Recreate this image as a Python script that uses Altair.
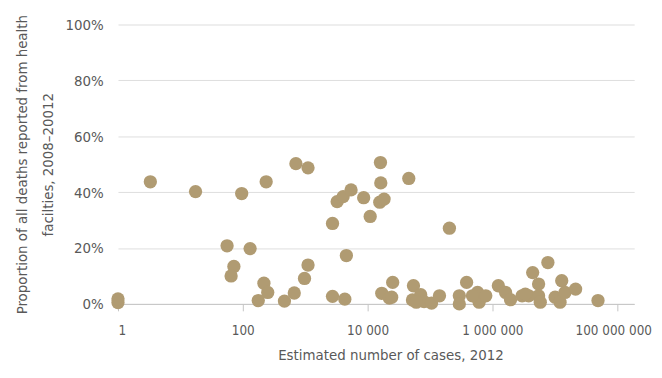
import altair as alt
import pandas as pd

# Estimated number of cases, 2012 (log scale)
cases = [
    1, 1, 3.3, 17.5, 96, 237, 710, 1110, 56, 131,
    72, 65, 218, 251, 177, 465, 668, 975, 1110, 2740,
    3250, 4055, 5430, 8650, 11000, 4570, 2740, 4315, 16070, 16260,
    15670, 18370, 16870, 22340, 25230, 45700, 204600, 54300, 52360, 70960,
    80350, 105900, 141900, 60300, 295000, 295000, 386000, 578000, 612000, 783000,
    479000, 1245000, 1626000, 1950000, 2992000, 3811000, 4416000, 5495000, 5495000, 5848000,
    7745000, 10120000, 12130000, 12910000, 14550000, 21530000, 49200000, 3365000, 24300,
]
# Proportion of deaths reported from health facilities (%)
share = [
    0.5, 1.8, 43.7, 40.2, 39.5, 43.7, 50.2, 48.7, 20.8, 19.8,
    13.4, 10.0, 7.4, 4.1, 1.2, 1.0, 3.9, 9.1, 13.9, 28.8,
    36.6, 38.4, 40.8, 38.0, 31.3, 17.3, 2.7, 1.7, 50.6, 43.3,
    36.4, 37.5, 3.8, 2.1, 7.7, 44.9, 27.1, 6.5, 1.4, 3.3,
    0.8, 0.3, 2.9, 0.6, 2.9, 0.0, 7.7, 4.1, 0.6, 2.9,
    2.9, 6.5, 4.1, 1.5, 2.9, 2.9, 11.2, 7.1, 2.9, 0.6,
    14.8, 2.4, 0.6, 8.3, 4.1, 5.3, 1.2, 3.5, 2.4,
]

x_ticks = [1, 100, 10000, 1000000, 100000000]
x_tick_labels = ["1", "100", "10 000", "1 000 000", "100 000 000"]
y_ticks = [0, 20, 40, 60, 80, 100]

df = pd.DataFrame({"cases": cases, "share": share})

label_expr = " : ".join(
    f"datum.value == {v} ? '{t}'" for v, t in zip(x_ticks, x_tick_labels)
) + " : ''"

FONT = "'DejaVu Sans Condensed', 'Roboto Condensed', 'Liberation Sans Narrow', 'DejaVu Sans', sans-serif"
TXT = "#595959"

chart = alt.Chart(df).mark_circle(size=180, opacity=1, color="#b09b72").encode(
    x=alt.X(
        "cases:Q",
        scale=alt.Scale(type="log", domain=[1, 187000000], nice=False),
        axis=alt.Axis(
            values=x_ticks,
            labelExpr=label_expr,
            title="Estimated number of cases, 2012",
            grid=False,
            domainColor="#c4c4c4",
            tickColor="#c4c4c4",
            tickSize=7,
            labelPadding=13,
            labelFontSize=13.5,
            labelOffset={"condition": {"test": f"datum.value == {x_ticks[-1]}", "value": -4}, "value": 0},
            titleX=275,
            titleY=51,
            titleBaseline="middle",
        ),
    ),
    y=alt.Y(
        "share:Q",
        scale=alt.Scale(domain=[0, 100], nice=False),
        axis=alt.Axis(
            values=y_ticks,
            labelExpr="datum.value + '%'",
            title=["Proportion of all deaths  reported from health", "facilties, 2008\u201320012"],
            grid=True,
            gridColor="#dedede",
            domain=False,
            ticks=False,
            labelPadding=15,
            labelFontSize=15,
            titleX=-97,
            titleY=141,
            titleBaseline="middle",
            titleLineHeight=26,
        ),
    ),
).properties(
    width=521,
    height=282,
    autosize=alt.AutoSizeParams(type="none"),
    padding={"left": 111, "top": 15, "right": 20, "bottom": 58},
).configure_view(
    stroke=None
).configure_axis(
    labelFont=FONT,
    titleFont=FONT,
    titleFontSize=15,
    labelColor=TXT,
    titleColor=TXT,
    titleFontWeight="normal",
)

chart.save("out.html", embed_options={"renderer": "svg", "actions": False})
